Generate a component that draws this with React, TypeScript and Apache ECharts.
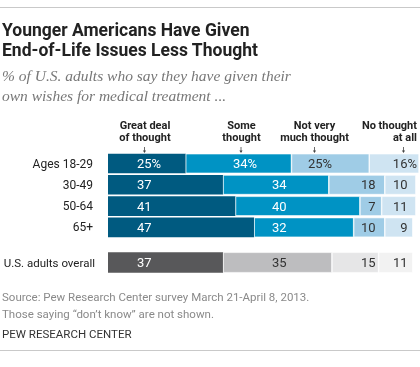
import React, { useEffect, useRef } from "react";
import * as echarts from "echarts";

// ---- data ----
const categories = ["Ages 18-29", "30-49", "50-64", "65+"];
const overallCategory = ["U.S. adults overall"];
const seriesNames = ["Great deal of thought", "Some thought", "Not very much thought", "No thought at all"];
const headerLines = [
  ["Great deal", "of thought"],
  ["Some", "thought"],
  ["Not very", "much thought"],
  ["No thought", "at all"],
];
const greatDeal = [25, 37, 41, 47];
const someThought = [34, 34, 40, 32];
const notVeryMuch = [25, 18, 7, 10];
const noThought = [16, 10, 11, 9];
const overall = [37, 35, 15, 11];

// ---- layout / style ----
const FONT = "Roboto, 'Liberation Sans', sans-serif";
const GRID_LEFT = 108;
const GRID_W = 311;
const SCALE = GRID_W / 100;
const BLUES = ["#005a80", "#0093c4", "#9fcce6", "#cfe4f2"];
const GRAYS = ["#58585a", "#bdbdbf", "#e6e6e7", "#f2f2f2"];
const LABEL_FILL_BLUE = ["#ffffff", "#ffffff", "#333333", "#333333"];
const LABEL_FILL_GRAY = ["#ffffff", "#333333", "#333333", "#333333"];
const COL_X = [137, 272, 375.5, 407.5];
const COL_ALIGN = ["left", "left", "right", "right"];
const FIRST_ROW_X = [137, 233, 308, 417];
const FIRST_ROW_ALIGN = ["left", "left", "left", "right"];
const HEADER_X = [145, 241.5, 314.5, 417];
const HEADER_ALIGN = ["center", "center", "center", "right"];
const ARROW_X = [144.5, 241, 314.5, 403.5];

export default function App() {
  const ref = useRef<HTMLDivElement>(null);

  useEffect(() => {
    if (!ref.current) return;
    const chart = echarts.init(ref.current, undefined, { renderer: "svg" });

    const ageSeries = [greatDeal, someThought, notVeryMuch, noThought];

    const buildData = (rows: number[][], s: number, r: number, firstRowPct: boolean, fills: string[]) => {
      const values = rows.map((arr) => arr[r]);
      let start = 0;
      for (let k = 0; k < s; k++) start += values[k];
      const startPx = GRID_LEFT + start * SCALE;
      const pct = firstRowPct && r === 0;
      const x = pct ? FIRST_ROW_X[s] : COL_X[s];
      const align = pct ? FIRST_ROW_ALIGN[s] : COL_ALIGN[s];
      return {
        value: values[s],
        label: {
          show: true,
          position: [x - startPx, "50%"],
          align,
          verticalAlign: "middle",
          formatter: pct ? "{c}%" : "{c}",
          color: fills[s],
          fontFamily: FONT,
          fontSize: 13,
        },
      };
    };

    const series: any[] = [];
    ageSeries.forEach((arr, s) => {
      series.push({
        type: "bar",
        name: seriesNames[s],
        stack: "age",
        xAxisIndex: 0,
        yAxisIndex: 0,
        barWidth: 19.6,
        itemStyle: { color: BLUES[s], borderColor: "#ffffff", borderWidth: s > 0 ? 0.6 : 0 },
        data: arr.map((_, r) => buildData(ageSeries, s, r, true, LABEL_FILL_BLUE)),
      });
    });
    const overallRows = overall.map((v) => [v]);
    overall.forEach((_, s) => {
      series.push({
        type: "bar",
        name: seriesNames[s] + " (overall)",
        stack: "overall",
        xAxisIndex: 1,
        yAxisIndex: 1,
        barWidth: 20.4,
        itemStyle: { color: GRAYS[s], borderColor: "#ffffff", borderWidth: s > 0 ? 0.6 : 0 },
        data: [buildData(overallRows, s, 0, false, LABEL_FILL_GRAY)],
      });
    });

    const graphic: any[] = [
      { type: "line", shape: { x1: 0, y1: 7.5, x2: 420, y2: 7.5 }, style: { stroke: "#c9c9c9", lineWidth: 1 } },
      {
        type: "text",
        x: 2,
        y: 19.5,
        style: {
          text: "Younger Americans Have Given\nEnd-of-Life Issues Less Thought",
          font: `bold 17.5px ${FONT}`,
          fill: "#222222",
          lineHeight: 20.5,
          textVerticalAlign: "top",
          verticalAlign: "top",
        },
      },
      {
        type: "text",
        x: 2,
        y: 65,
        style: {
          text: "% of U.S. adults who say they have given their\nown wishes for medical treatment ...",
          font: `italic 15.5px 'Liberation Serif', serif`,
          fill: "#777777",
          lineHeight: 20,
          textVerticalAlign: "top",
          verticalAlign: "top",
        },
      },
      {
        type: "text",
        x: 2,
        y: 289,
        style: {
          text: "Source: Pew Research Center survey March 21-April 8, 2013.\nThose saying \u201cdon\u2019t know\u201d are not shown.",
          font: `11.5px ${FONT}`,
          fill: "#8a8a8a",
          lineHeight: 16.5,
          textVerticalAlign: "top",
          verticalAlign: "top",
        },
      },
      {
        type: "text",
        x: 2,
        y: 328,
        style: {
          text: "PEW RESEARCH CENTER",
          font: `11.5px ${FONT}`,
          fill: "#333333",
          textVerticalAlign: "top",
          verticalAlign: "top",
        },
      },
      { type: "line", shape: { x1: 0, y1: 350.5, x2: 420, y2: 350.5 }, style: { stroke: "#c9c9c9", lineWidth: 1 } },
    ];
    headerLines.forEach((lines, i) => {
      lines.forEach((line, j) => {
        graphic.push({
          type: "text",
          x: HEADER_X[i],
          y: 120 + j * 11.5,
          style: {
            text: line,
            font: `bold 11px ${FONT}`,
            fill: "#222222",
            textAlign: HEADER_ALIGN[i],
            align: HEADER_ALIGN[i],
            textVerticalAlign: "top",
            verticalAlign: "top",
          },
        });
      });
      graphic.push({
        type: "line",
        shape: { x1: ARROW_X[i], y1: 147, x2: ARROW_X[i], y2: 152 },
        style: { stroke: "#444444", lineWidth: 0.8 },
      });
      graphic.push({
        type: "polygon",
        shape: { points: [[ARROW_X[i] - 1.6, 150.5], [ARROW_X[i] + 1.6, 150.5], [ARROW_X[i], 153]] },
        style: { fill: "#444444" },
      });
    });

    const yLabel = { color: "#222222", fontFamily: FONT, fontSize: 12, margin: 15 };
    const yLabelOverall = { color: "#222222", fontFamily: FONT, fontSize: 11.5, margin: 13 };

    chart.setOption({
      animation: false,
      grid: [
        { left: GRID_LEFT, width: GRID_W, top: 152.85, height: 85.2, outerBoundsMode: "none", containLabel: false },
        { left: GRID_LEFT, width: GRID_W, top: 251.5, height: 22, outerBoundsMode: "none", containLabel: false },
      ],
      xAxis: [
        { type: "value", gridIndex: 0, min: 0, max: 100, show: false },
        { type: "value", gridIndex: 1, min: 0, max: 100, show: false },
      ],
      yAxis: [
        {
          type: "category",
          gridIndex: 0,
          data: categories,
          inverse: true,
          axisLine: { show: false },
          axisTick: { show: false },
          axisLabel: yLabel,
        },
        {
          type: "category",
          gridIndex: 1,
          data: overallCategory,
          inverse: true,
          axisLine: { show: false },
          axisTick: { show: false },
          axisLabel: yLabelOverall,
        },
      ],
      series,
      graphic,
    });

    return () => chart.dispose();
  }, []);

  return <div ref={ref} style={{ position: "fixed", left: 0, top: 0, width: 420, height: 367 }} />;
}
